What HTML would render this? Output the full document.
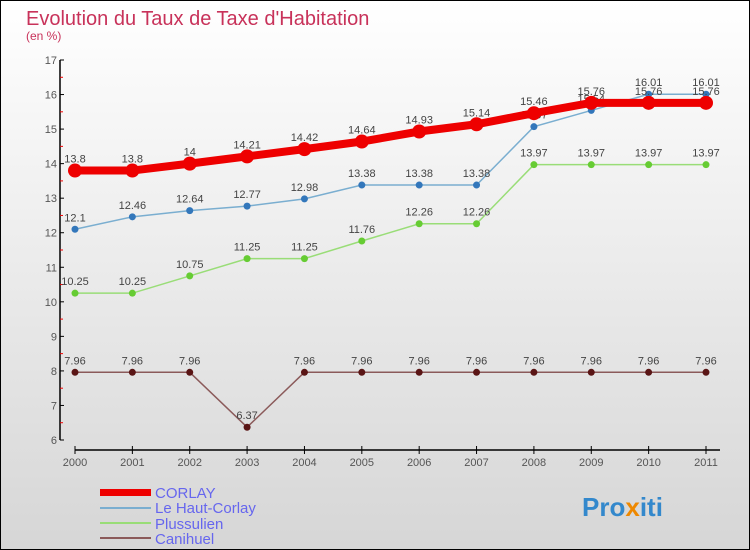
<!DOCTYPE html>
<html><head><meta charset="utf-8"><style>
body{margin:0}
svg{display:block;font-family:"Liberation Sans",sans-serif}
</style></head><body>
<svg id="c" width="750" height="550">
<defs><linearGradient id="bg" x1="0" y1="0" x2="0" y2="1"><stop offset="0" stop-color="#ffffff"/><stop offset="1" stop-color="#d6d6d6"/></linearGradient></defs>
<rect x="0.5" y="0.5" width="749" height="549" fill="url(#bg)" stroke="#000"/>
<text x="26" y="25" font-size="20" fill="#c8325a">Evolution du Taux de Taxe d'Habitation</text>
<text x="26" y="40" font-size="12" fill="#c8325a">(en %)</text>
<g id="axes"></g><g id="series"></g>
<g>
<rect x="100" y="489" width="51" height="7" fill="#e00"/>
<text x="155" y="498" font-size="15" fill="#6666ee">CORLAY</text>
<rect x="100" y="507" width="51" height="2" fill="#7aaed0"/>
<text x="155" y="513" font-size="15" fill="#6666ee">Le Haut-Corlay</text>
<rect x="100" y="522" width="51" height="2" fill="#99dd77"/>
<text x="155" y="529" font-size="15" fill="#6666ee">Plussulien</text>
<rect x="100" y="537" width="51" height="2" fill="#8b5a5a"/>
<text x="155" y="544" font-size="15" fill="#6666ee">Canihuel</text>
</g>
<text x="582" y="516" font-size="26" font-weight="bold"><tspan fill="#3388cc">Pro</tspan><tspan fill="#ee8800">x</tspan><tspan fill="#3388cc">iti</tspan></text>
</svg>
<script>
const years=["2000","2001","2002","2003","2004","2005","2006","2007","2008","2009","2010","2011"];
const yTicks=[6,7,8,9,10,11,12,13,14,15,16,17];
const corlay=[13.8,13.8,14,14.21,14.42,14.64,14.93,15.14,15.46,15.76,15.76,15.76];
const hautCorlay=[12.1,12.46,12.64,12.77,12.98,13.38,13.38,13.38,15.07,15.54,16.01,16.01];
const plussulien=[10.25,10.25,10.75,11.25,11.25,11.76,12.26,12.26,13.97,13.97,13.97,13.97];
const canihuel=[7.96,7.96,7.96,6.37,7.96,7.96,7.96,7.96,7.96,7.96,7.96,7.96];
const NS="http://www.w3.org/2000/svg";
const X=i=>75+i*(706-75)/(years.length-1);
const Y=v=>440-(v-6)*(380/11);
function mk(t,a,p){const e=document.createElementNS(NS,t);for(const k in a)e.setAttribute(k,a[k]);p.appendChild(e);return e;}
const ax=document.getElementById('axes');
const ya=mk('line',{x1:60,y1:60,x2:60,y2:440,stroke:'#000','stroke-width':1.5},ax);


yTicks.forEach(v=>{
 mk('line',{x1:60,y1:Y(v),x2:64,y2:Y(v),stroke:'#000'},ax);
 if(v<17)mk('line',{x1:60,y1:Y(v+0.5),x2:63,y2:Y(v+0.5),stroke:'#e00'},ax);
 const t=mk('text',{x:57,y:Y(v)+4,'font-size':11,fill:'#555','text-anchor':'end'},ax);t.textContent=v;
 
 
});
const xa=mk('line',{x1:75,y1:450,x2:720,y2:450,stroke:'#000','stroke-width':1.5},ax);


years.forEach((y,i)=>{
 mk('line',{x1:X(i),y1:446,x2:X(i),y2:454,stroke:'#000'},ax);
 const t=mk('text',{x:X(i),y:466,'font-size':11,fill:'#555','text-anchor':'middle'},ax);t.textContent=y;
 
 
});
const sg=document.getElementById('series');
function draw(vals,name,color,w,r,dot){
 const g=mk('g',{},sg);
 
 
 const pl=mk('polyline',{points:vals.map((v,i)=>X(i)+','+Y(v)).join(' '),fill:'none',stroke:color,'stroke-width':w},g);
 
 
 vals.forEach((v,i)=>{
  const c=mk('circle',{cx:X(i),cy:Y(v),r:r,fill:dot},g);
  
  
  const t=mk('text',{x:X(i),y:Y(v)-8,'font-size':11,fill:'#444','text-anchor':'middle'},g);
  t.textContent=v;
  
  
 });
}
draw(canihuel,'canihuel','#8b5a5a',1.5,3.5,'#5a1515');
draw(plussulien,'plussulien','#99dd77',1.5,3.5,'#66cc33');
draw(hautCorlay,'le-haut-corlay','#7aaed0',1.5,3.5,'#3377bb');
draw(corlay,'corlay','#ee0000',8,7,'#ee0000');
</script>
</body></html>
